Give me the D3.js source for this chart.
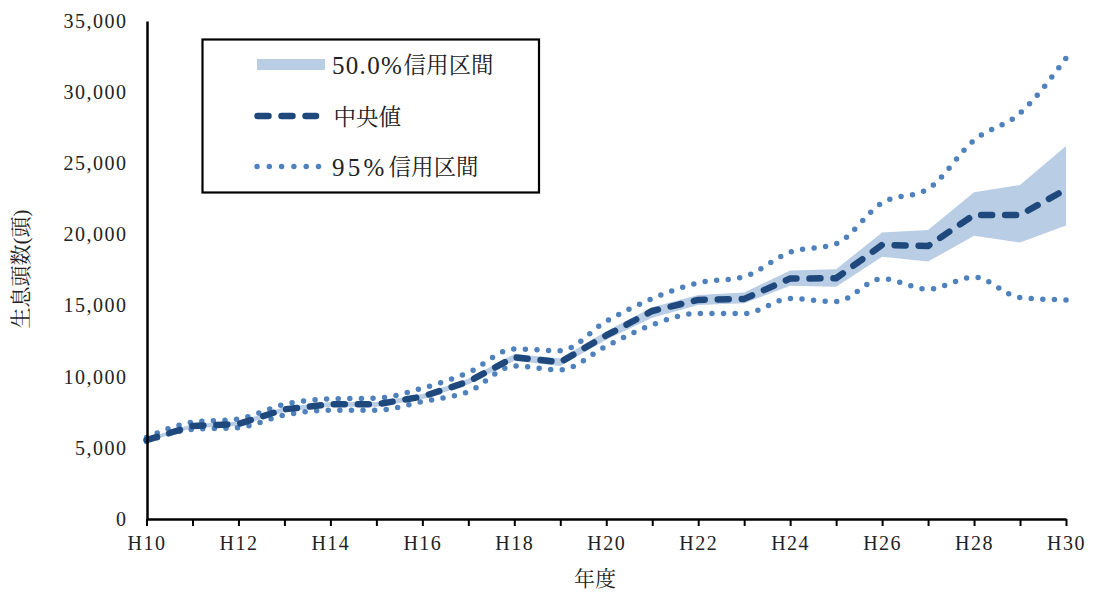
<!DOCTYPE html>
<html>
<head>
<meta charset="utf-8">
<script src="https://cdn.jsdelivr.net/npm/d3@7"></script>
<style>
  html, body { margin: 0; padding: 0; background: #fff; }
  svg text { font-family: "Liberation Serif", "Noto Serif CJK JP", "Noto Sans CJK JP", serif; fill: #222; }
</style>
</head>
<body>
<svg id="chart" width="1093" height="592"></svg>
<script>
const years = ["H10","H11","H12","H13","H14","H15","H16","H17","H18","H19","H20","H21","H22","H23","H24","H25","H26","H27","H28","H29","H30"];
const median = [5550, 6540, 6680, 7710, 8060, 8060, 8600, 9650, 11370, 11020, 12900, 14620, 15400, 15470, 16900, 16920, 19265, 19190, 21370, 21370, 23170];
const band50Upper = [5680, 6680, 6830, 7880, 8230, 8230, 8780, 9850, 11600, 11280, 13200, 14880, 15750, 15910, 17460, 17560, 20130, 20320, 22970, 23480, 26220];
const band50Lower = [5430, 6400, 6530, 7540, 7890, 7890, 8420, 9450, 11130, 10760, 12600, 14150, 15045, 15160, 16400, 16330, 18440, 18090, 19900, 19430, 20620];
const ci95Upper = [5720, 6800, 7030, 8060, 8440, 8490, 9190, 10290, 11950, 11830, 13900, 15490, 16590, 17030, 18750, 19350, 22220, 23200, 26620, 28520, 32390];
const ci95Lower = [5440, 6300, 6420, 7310, 7640, 7640, 8250, 8950, 10760, 10480, 12150, 13650, 14450, 14440, 15490, 15280, 16890, 16150, 17000, 15560, 15400];
const yTicks = [0, 5000, 10000, 15000, 20000, 25000, 30000, 35000];
const legendLabels = [["50.0%", "信用区間"], ["", "中央値"], ["95%", "信用区間"]];
const xTitle = "年度";
const yTitle = "生息頭数(頭)";

const colBand = "#b9cde5", colMed = "#1f497d", colDot = "#4f81bd";

const svg = d3.select("#chart");
const x = d3.scalePoint().domain(years).range([146.5, 1066]);
const y = d3.scaleLinear().domain([0, 35000]).range([519, 21]);

// band
const area = d3.area()
  .x((d, i) => x(years[i]))
  .y0((d, i) => y(band50Lower[i]))
  .y1((d, i) => y(band50Upper[i]));
svg.append("path").datum(median).attr("d", area).attr("fill", colBand);

const smooth = d3.line().x((d, i) => x(years[i])).y(d => y(d)).curve(d3.curveMonotoneX);
const straight = d3.line().x((d, i) => x(years[i])).y(d => y(d));

[ci95Lower, ci95Upper].forEach(s => {
  svg.append("path").datum(s).attr("d", smooth)
    .attr("fill", "none").attr("stroke", colDot).attr("stroke-width", 5.5)
    .attr("stroke-linecap", "round").attr("stroke-dasharray", "0,11.6");
});
svg.append("path").datum(median).attr("d", straight)
  .attr("fill", "none").attr("stroke", colMed).attr("stroke-width", 6.5)
  .attr("stroke-linecap", "round").attr("stroke-linejoin", "round").attr("stroke-dasharray", "11,13");

// axes
const xAxis = d3.axisBottom(x).tickSize(7).tickSizeOuter(0).tickPadding(10)
  .tickFormat((d, i) => i % 2 === 0 ? d : "");
const gx = svg.append("g").attr("transform", "translate(0,519)").call(xAxis);
gx.select(".domain").attr("stroke", "#000").attr("stroke-width", 2.5);
gx.selectAll(".tick line").attr("stroke", "#000").attr("stroke-width", 2);
gx.selectAll(".tick text").style("font-size", "20px").attr("letter-spacing", "1.5px").attr("fill", "#222");

const yAxis = d3.axisLeft(y).tickValues(yTicks).tickSize(0).tickSizeOuter(0).tickPadding(19.5)
  .tickFormat(d3.format(","));
const gy = svg.append("g").attr("transform", "translate(147,0)").call(yAxis);
gy.select(".domain").attr("stroke", "#000").attr("stroke-width", 2.5);
gy.selectAll(".tick text").style("font-size", "20px").attr("letter-spacing", "1.5px").attr("fill", "#222");

// titles
svg.append("text").attr("x", 595).attr("y", 586).attr("text-anchor", "middle")
  .style("font-size", "21px").text(xTitle);
svg.append("text").attr("transform", "translate(28,269) rotate(-90)").attr("text-anchor", "middle")
  .style("font-size", "21px").text(yTitle);

// legend
const lg = svg.append("g");
lg.append("rect").attr("x", 202.5).attr("y", 39.5).attr("width", 336.5).attr("height", 153)
  .attr("fill", "#fff").attr("stroke", "#000").attr("stroke-width", 2.2);
lg.append("rect").attr("x", 257).attr("y", 59).attr("width", 68).attr("height", 11).attr("fill", colBand);
lg.append("line").attr("x1", 257.5).attr("x2", 316).attr("y1", 116).attr("y2", 116)
  .attr("stroke", colMed).attr("stroke-width", 6.5).attr("stroke-linecap", "round").attr("stroke-dasharray", "11,13");
lg.append("line").attr("x1", 257).attr("x2", 320).attr("y1", 166.5).attr("y2", 166.5)
  .attr("stroke", colDot).attr("stroke-width", 5.5).attr("stroke-linecap", "round").attr("stroke-dasharray", "0,12.3");
const ly = [65.5, 117, 167];
const cjkX = [403.5, 333.5, 388.5];
legendLabels.forEach((t, i) => {
  if (t[0]) {
    lg.append("text").attr("x", 332).attr("y", ly[i]).attr("dy", "0.35em")
      .attr("letter-spacing", i === 0 ? "1.3px" : "3.2px")
      .style("font-size", "25px").text(t[0]);
  }
  lg.append("text").attr("x", cjkX[i]).attr("y", ly[i]).attr("dy", "0.35em")
    .style("font-size", "22.5px").text(t[1]);
});
</script>
</body>
</html>
